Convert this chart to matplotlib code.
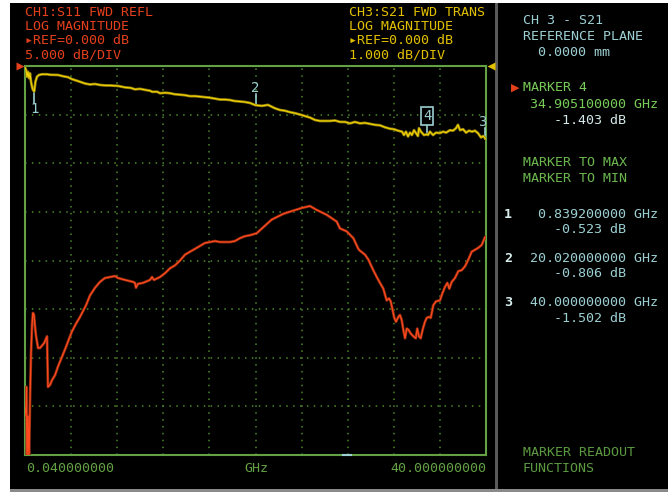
import numpy as np
import matplotlib
matplotlib.use("Agg")
import matplotlib.pyplot as plt
from matplotlib.patches import Rectangle

# ---- data ----
# CH1 S11 (5 dB/div, ref 0 dB at top)
s11_ghz = [0.04, 0.13, 0.17, 0.21, 0.30, 0.39, 0.47, 0.56, 0.65, 0.73, 0.82, 0.91, 0.99,
           1.17, 1.34, 1.69, 1.95, 1.99, 2.03, 2.21, 2.38, 2.64, 2.90, 3.25, 3.59, 3.94,
           4.11, 4.46, 4.81, 5.33, 5.67, 6.11, 6.54, 6.97, 7.41, 7.84, 8.10, 8.71, 9.40,
           9.57, 9.66, 9.83, 10.27, 10.87, 11.05, 11.22, 11.74, 12.18, 12.61, 13.04, 13.48,
           13.91, 14.34, 14.78, 15.21, 15.64, 16.08, 16.51, 16.94, 17.81, 18.24, 18.68,
           19.11, 19.54, 20.12, 21.42, 22.43, 24.02, 24.74, 25.32, 26.19, 27.06, 27.34,
           27.92, 28.50, 28.93, 29.08, 29.51, 29.80, 30.23, 30.53, 30.81, 31.10, 31.39,
           31.59, 31.74, 31.91, 32.05, 32.20, 32.40, 32.54, 32.69, 32.83, 32.98, 33.13,
           33.26, 33.47, 33.70, 33.91, 34.04, 34.19, 34.34, 34.51, 34.71, 34.86, 35.06,
           35.21, 35.35, 35.43, 35.67, 36.01, 36.21, 36.45, 36.65, 36.82, 37.03, 37.31,
           37.60, 37.89, 38.18, 38.47, 38.76, 39.04, 39.33, 39.63, 39.91, 40.00]
s11_db = [-36.0, -34.9, -33.0, -41.0, -36.0, -41.0, -34.5, -29.7, -26.6, -25.4, -25.6, -26.8, -27.7,
          -29.0, -29.0, -28.5, -27.8, -30.4, -33.0, -32.8, -32.3, -31.8, -30.9, -29.9, -28.9, -27.8,
          -27.3, -26.5, -25.8, -24.6, -23.6, -22.8, -22.2, -21.8, -21.7, -21.6, -21.8, -22.0, -22.2,
          -22.3, -22.8, -22.4, -22.3, -22.0, -21.7, -22.0, -21.7, -21.3, -20.8, -20.5, -20.0,
          -19.4, -19.1, -18.8, -18.5, -18.2, -18.1, -18.0, -18.1, -18.1, -18.0, -17.7,
          -17.5, -17.4, -17.2, -15.8, -15.2, -14.6, -14.4, -14.8, -15.3, -16.0, -16.7,
          -17.0, -17.7, -18.8, -19.0, -19.4, -19.9, -21.0, -21.7, -22.3, -22.9, -24.1,
          -23.9, -24.2, -25.1, -25.9, -26.3, -25.8, -25.6, -26.1, -27.1, -28.0, -27.0,
          -27.1, -27.5, -27.8, -28.0, -27.0, -27.8, -28.0, -27.1, -26.3, -25.9, -25.8,
          -25.9, -25.1, -24.6, -24.2, -24.1, -23.4, -22.7, -22.3, -22.9, -22.2, -21.8,
          -21.1, -21.0, -20.6, -19.9, -19.1, -18.9, -18.7, -18.4, -17.6, -17.6]

# CH3 S21 (1 dB/div, ref 0 dB at top)
s21_ghz = [0.04, 0.13, 0.21, 0.30, 0.39, 0.47, 0.56, 0.65, 0.73, 0.839, 0.95, 1.08, 1.25, 1.51,
           1.95, 2.21, 2.90, 3.33, 3.77, 4.11, 4.63, 5.24, 5.67, 6.11, 6.54, 7.00, 7.41, 8.10,
           8.71, 9.20, 9.57, 10.00, 10.44, 10.90, 11.05, 11.50, 11.74, 12.20, 12.61, 13.00,
           13.48, 13.90, 14.34, 14.80, 15.21, 15.60, 15.99, 16.50, 16.94, 17.40, 17.81, 18.20,
           18.68, 19.10, 19.54, 20.02, 20.58, 21.10, 21.45, 21.71, 22.14, 22.58, 23.01, 23.44,
           24.05, 24.31, 24.74, 25.18, 25.61, 26.04, 26.48, 26.91, 27.34, 27.78, 28.21, 28.64,
           29.08, 29.51, 29.94, 30.38, 30.81, 31.24, 31.68, 32.02, 32.37, 32.72, 32.89, 33.06,
           33.24, 33.41, 33.58, 33.76, 33.93, 34.10, 34.19, 34.36, 34.62, 34.905, 34.97, 35.14,
           35.41, 35.67, 36.01, 36.28, 36.54, 36.88, 37.14, 37.40, 37.57, 37.75, 38.01, 38.27,
           38.53, 38.79, 39.04, 39.30, 39.57, 39.74, 40.00]
s21_db = [-0.03, -0.08, -0.22, -0.12, -0.25, -0.15, -0.32, -0.43, -0.49, -0.523, -0.32, -0.22, -0.185, -0.17,
          -0.17, -0.18, -0.185, -0.21, -0.23, -0.27, -0.31, -0.36, -0.38, -0.37, -0.39, -0.40, -0.40, -0.41,
          -0.44, -0.45, -0.48, -0.47, -0.49, -0.51, -0.53, -0.53, -0.56, -0.55, -0.56, -0.58,
          -0.59, -0.60, -0.62, -0.62, -0.63, -0.64, -0.65, -0.67, -0.69, -0.69, -0.70, -0.72,
          -0.73, -0.74, -0.76, -0.806, -0.82, -0.80, -0.84, -0.87, -0.905, -0.92, -0.95, -0.97,
          -1.01, -1.03, -1.06, -1.11, -1.13, -1.13, -1.13, -1.12, -1.15, -1.15, -1.18, -1.15,
          -1.18, -1.17, -1.19, -1.21, -1.22, -1.26, -1.29, -1.30, -1.33, -1.35, -1.42, -1.35,
          -1.45, -1.37, -1.42, -1.32, -1.38, -1.44, -1.28, -1.35, -1.42, -1.403, -1.42, -1.35,
          -1.42, -1.37, -1.38, -1.35, -1.37, -1.32, -1.33, -1.28, -1.21, -1.32, -1.30, -1.37,
          -1.33, -1.35, -1.33, -1.38, -1.47, -1.44, -1.502]

# markers on S21
mk_names = ["1", "2", "4", "3"]
mk_ghz = [0.8392, 20.02, 34.9051, 40.0]
mk_db = [-0.523, -0.806, -1.403, -1.502]

W, H = 668, 493
RED = "#e4401c"
YEL = "#e2c000"
GRN = "#62a244"
CYN = "#9ccfd2"
MONO = "DejaVu Sans Mono"
FS = 9.6


def fx(x):
    return x / W


def fy(y):
    return 1 - y / H


fig = plt.figure(figsize=(W / 100, H / 100), dpi=100, facecolor="white")

# screen background + bezel lines
fig.patches.append(Rectangle((fx(10), fy(489)), 1 - fx(10), fy(3) - fy(489),
                             transform=fig.transFigure, facecolor="black", edgecolor="none", zorder=-10))
fig.patches.append(Rectangle((fx(10), fy(492)), 1 - fx(10), fy(489) - fy(492),
                             transform=fig.transFigure, facecolor="#8a8a8a", edgecolor="none", zorder=-10))
fig.patches.append(Rectangle((fx(495), fy(489)), fx(3), fy(3) - fy(489),
                             transform=fig.transFigure, facecolor="#5a5a5a", edgecolor="none", zorder=-10))

ax = fig.add_axes([fx(25), fy(455), fx(461), fy(66) - fy(455)])
ax.set_zorder(1)
ax.set_facecolor("black")
ax.set_xlim(0.04, 40)
ax.set_ylim(-40, 0)
ax.set_xticks(np.linspace(0.04, 40, 11))
ax.set_yticks(np.arange(-40, 1, 5))
ax.tick_params(length=0, labelbottom=False, labelleft=False)
ax.grid(True, color="#4c8a2e", linestyle=(0, (1, 3.5)), linewidth=1.1)
for s in ax.spines.values():
    s.set_color(GRN)
    s.set_linewidth(1.5)

ax.plot(s11_ghz, s11_db, color="#8a2a10", lw=2.0, zorder=3)
ax.plot(s11_ghz, s11_db, color="#ff4a1e", lw=0.9, zorder=4)

ax2 = ax.twinx()
ax2.set_zorder(2)
ax2.set_ylim(-8, 0)
ax2.set_yticks([])
ax2.patch.set_visible(False)
for s in ax2.spines.values():
    s.set_visible(False)
ax2.plot(s21_ghz, s21_db, color="#8a7a10", lw=2.0, zorder=3)
ax2.plot(s21_ghz, s21_db, color="#f0d000", lw=0.9, zorder=4)

# marker flags
mfont = dict(family=MONO, fontsize=10, color=CYN, ha="center", va="center")
for name, f, d in zip(mk_names, mk_ghz, mk_db):
    if name == "1":
        ax2.plot([f, f], [d, d - 0.24], color=CYN, lw=1.2)
        ax2.text(f, d - 0.37, name, **mfont)
    elif name == "3":
        ax2.plot([f - 0.1, f - 0.1], [d, d + 0.22], color=CYN, lw=1.2, clip_on=False)
        ax2.text(f - 0.3, d + 0.36, name, **mfont)
    elif name == "4":
        ax2.plot([f, f], [d, d + 0.22], color=CYN, lw=1.2)
        ax2.text(f, d + 0.38, name,
                 bbox=dict(boxstyle="square,pad=0.15", fc="black", ec=CYN, lw=1.2), **mfont)
    else:
        ax2.plot([f, f], [d, d + 0.22], color=CYN, lw=1.2)
        ax2.text(f, d + 0.36, name, **mfont)

# reference position triangles
ax.plot(-0.011, 1.0, marker=">", color=RED, ms=6, mec="none", transform=ax.transAxes, clip_on=False)
ax2.plot(1.011, 1.0, marker="<", color=YEL, ms=6, mec="none", transform=ax.transAxes, clip_on=False)
ax.plot([27.6, 28.3], [-40, -40], color=CYN, lw=1.5, clip_on=False, zorder=5)

# channel headers
ch1 = ["CH1:S11 FWD REFL", "LOG MAGNITUDE", "\u25b8REF=0.000 dB", "5.000 dB/DIV"]
ch3 = ["CH3:S21 FWD TRANS", "LOG MAGNITUDE", "\u25b8REF=0.000 dB", "1.000 dB/DIV"]
for i, (a, b) in enumerate(zip(ch1, ch3)):
    yy = [12, 26.5, 41, 55][i]
    fig.text(fx(25), fy(yy), a, color=RED, family=MONO, fontsize=FS, va="center", ha="left")
    fig.text(fx(349), fy(yy), b, color=YEL, family=MONO, fontsize=FS, va="center", ha="left")

# frequency axis labels
fig.text(fx(26), fy(468), "0.040000000", color=GRN, family=MONO, fontsize=FS, va="center")
fig.text(fx(256), fy(468), "GHz", color=GRN, family=MONO, fontsize=FS, va="center", ha="center")
fig.text(fx(486), fy(468), "40.000000000", color=GRN, family=MONO, fontsize=FS, va="center", ha="right")

# right side panel
def side(x, y, s, c, ha="left"):
    fig.text(fx(x), fy(y), s, color=c, family=MONO, fontsize=FS, va="center", ha=ha)


side(523, 20.5, "CH 3 - S21", CYN)
side(523, 36, "REFERENCE PLANE", CYN)
side(538, 52.5, "0.0000 mm", CYN)
fig.text(fx(515), fy(87.5), "\u25b6", color=RED, family="DejaVu Sans", fontsize=8, va="center", ha="center")
side(523, 87.5, "MARKER 4", "#78cc58")
side(658, 105, "34.905100000 GHz", "#78cc58", ha="right")
side(626, 121, "-1.403 dB", "#d4e8e8", ha="right")
side(523, 163, "MARKER TO MAX", "#6cb84e")
side(523, 178, "MARKER TO MIN", "#6cb84e")
for n, yv, fr, db in zip(mk_names[:2] + [mk_names[3]], [214, 258, 303],
                         ["0.839200000 GHz", "20.020000000 GHz", "40.000000000 GHz"],
                         ["-0.523 dB", "-0.806 dB", "-1.502 dB"]):
    fig.text(fx(508), fy(yv), n, color="#d8eeee", family=MONO, fontsize=FS,
             fontweight="bold", va="center", ha="center")
    side(658, yv, fr, CYN, ha="right")
    side(626, yv + 15.5, db, CYN, ha="right")
side(523, 452, "MARKER READOUT", "#5c9a40")
side(523, 468, "FUNCTIONS", "#5c9a40")

fig.savefig("out.png", dpi=100, facecolor=fig.get_facecolor())
